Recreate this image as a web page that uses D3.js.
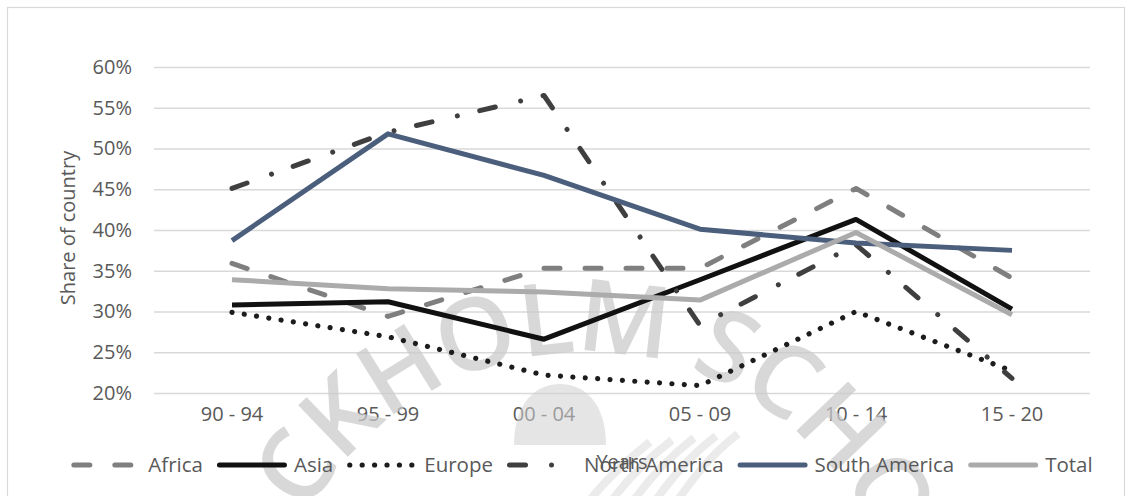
<!DOCTYPE html>
<html>
<head>
<meta charset="utf-8">
<script src="https://cdn.jsdelivr.net/npm/d3@7"></script>
<style>
  html, body { margin: 0; padding: 0; background: #ffffff; }
  svg { display: block; }
  text { font-family: "Open Sans", "Noto Sans", sans-serif; }
</style>
</head>
<body>
<svg id="chart" width="1133" height="496"></svg>
<script>
// Period buckets on the x axis
const periods = ["90 - 94", "95 - 99", "00 - 04", "05 - 09", "10 - 14", "15 - 20"];

// Share of country per region and period
const africa       = [0.359, 0.294, 0.353, 0.353, 0.451, 0.341];
const asia         = [0.308, 0.312, 0.266, 0.339, 0.413, 0.303];
const europe       = [0.299, 0.269, 0.222, 0.209, 0.300, 0.227];
const northAmerica = [0.451, 0.520, 0.565, 0.283, 0.382, 0.218];
const southAmerica = [0.387, 0.518, 0.467, 0.401, 0.384, 0.375];
const total        = [0.339, 0.328, 0.324, 0.314, 0.397, 0.296];

const yTicks = [0.20, 0.25, 0.30, 0.35, 0.40, 0.45, 0.50, 0.55, 0.60];

const regionNames = ["Africa", "Asia", "Europe", "North America", "South America", "Total"];
const regionValues = [africa, asia, europe, northAmerica, southAmerica, total];

// Stroke styles per region (solid, dashed, dotted, dash-dot)
const regionStyles = [
  { color: "#7f7f7f", dash: "16,25", width: 5 },
  { color: "#111111", dash: null, width: 5 },
  { color: "#1c1c1c", dash: "0.01,12.4", width: 5.2 },
  { color: "#3f3f3f", dash: "16,26,0.01,23", width: 5 },
  { color: "#4b5f7c", dash: null, width: 5 },
  { color: "#ababab", dash: null, width: 5 }
];

const svg = d3.select("#chart");
const plot = { left: 154, right: 1090, top: 67, bottom: 393 };

const x = d3.scaleBand().domain(periods).range([plot.left, plot.right]);
const y = d3.scaleLinear().domain([0.20, 0.60]).range([plot.bottom, plot.top]);

// Outer chart frame
svg.append("rect")
  .attr("x", 7.5).attr("y", 7.5)
  .attr("width", 1117).attr("height", 500)
  .attr("fill", "none").attr("stroke", "#d9d9d9").attr("stroke-width", 1.2);

// Horizontal gridlines with percentage labels
const yAxis = d3.axisLeft(y).tickValues(yTicks).tickFormat(d3.format(".0%"))
  .tickSize(-(plot.right - plot.left)).tickPadding(22);
const gy = svg.append("g").attr("transform", `translate(${plot.left},0)`).call(yAxis);
gy.select(".domain").remove();
gy.selectAll(".tick line").attr("stroke", "#d9d9d9").attr("stroke-width", 1.5);
gy.selectAll(".tick text")
  .attr("fill", "#595959").attr("font-size", 20)
  .attr("font-family", "'Open Sans', 'Noto Sans', sans-serif");

// Category labels under the plot
const xAxis = d3.axisBottom(x).tickSize(0).tickPadding(14);
const gx = svg.append("g").attr("transform", `translate(0,${plot.bottom})`).call(xAxis);
gx.select(".domain").remove();
gx.selectAll(".tick text")
  .attr("fill", "#595959").attr("font-size", 20)
  .attr("font-family", "'Open Sans', 'Noto Sans', sans-serif");

// Faint school seal in the background
const seal = svg.append("g").attr("pointer-events", "none");
const sealCx = 585, sealCy = 671, sealR = 319;
svg.append("defs").append("path")
  .attr("id", "sealArc")
  .attr("d", `M ${sealCx - sealR} ${sealCy} A ${sealR} ${sealR} 0 0 1 ${sealCx + sealR} ${sealCy}`);
seal.append("text")
  .attr("font-size", 100).attr("font-weight", 600)
  .attr("letter-spacing", -1.5)
  .attr("fill", "#c9c9c9").attr("fill-opacity", 0.72)
  .append("textPath")
  .attr("href", "#sealArc")
  .attr("startOffset", 163)
  .text("CKHOLM SCHO");
// dome and rays of the emblem
seal.append("path")
  .attr("d", "M 514 445 C 514 405, 534 384, 560 384 C 586 384, 606 405, 606 445 Z")
  .attr("fill", "#cfcfcf").attr("fill-opacity", 0.55);
[0, 1, 2, 3, 4].forEach(i => {
  seal.append("path")
    .attr("d", `M ${590 + i * 22} 500 Q ${612 + i * 24} ${472 - i * 4}, ${650 + i * 22} ${442 - i * 2}`)
    .attr("fill", "none").attr("stroke", "#d2d2d2").attr("stroke-opacity", 0.45)
    .attr("stroke-width", 8);
});

// Region lines
const line = d3.line()
  .x((d, i) => x(periods[i]) + x.bandwidth() / 2)
  .y(d => y(d));

regionValues.forEach((vals, k) => {
  const st = regionStyles[k];
  svg.append("path")
    .datum(vals)
    .attr("d", line)
    .attr("fill", "none")
    .attr("stroke", st.color)
    .attr("stroke-width", st.width)
    .attr("stroke-linejoin", "round")
    .attr("stroke-linecap", st.dash ? "round" : "butt")
    .attr("stroke-dasharray", st.dash);
});

// Axis titles
svg.append("text")
  .attr("transform", "translate(75,228) rotate(-90)")
  .attr("text-anchor", "middle")
  .attr("fill", "#595959").attr("font-size", 20)
  .text("Share of country");

svg.append("text")
  .attr("x", (plot.left + plot.right) / 2).attr("y", 469)
  .attr("text-anchor", "middle")
  .attr("fill", "#595959").attr("font-size", 20)
  .text("Years");

// Legend row
const legend = svg.append("g");
const sampleLen = 70, gapBefore = 7, gapAfter = 14, legendY = 465;
let cursor = 0;
const items = [];
regionNames.forEach((name, k) => {
  const g = legend.append("g");
  const st = regionStyles[k];
  g.append("line")
    .attr("x1", 2.5).attr("x2", sampleLen - 2.5)
    .attr("y1", 0).attr("y2", 0)
    .attr("stroke", st.color).attr("stroke-width", st.width)
    .attr("stroke-linecap", "round")
    .attr("stroke-dasharray", st.dash);
  const t = g.append("text")
    .attr("x", sampleLen + gapBefore).attr("y", 7)
    .attr("fill", "#595959").attr("font-size", 20.5)
    .text(name);
  const w = t.node().getComputedTextLength();
  items.push({ g, offset: cursor });
  cursor += sampleLen + gapBefore + w + gapAfter;
});
const legendWidth = cursor - gapAfter;
const legendStart = 582 - legendWidth / 2;
items.forEach(it => it.g.attr("transform", `translate(${legendStart + it.offset},${legendY})`));
</script>
</body>
</html>
